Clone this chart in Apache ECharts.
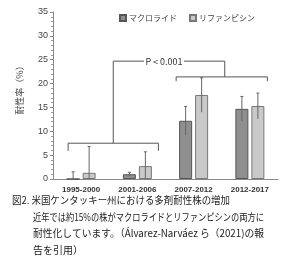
<!DOCTYPE html>
<html><head><meta charset="utf-8">
<script src="https://cdn.jsdelivr.net/npm/echarts@6/dist/echarts.min.js"></script>
<style>html,body{margin:0;padding:0;background:#fff}#c{width:300px;height:256px}</style>
</head><body><div id="c"></div>
<script>
const categories = ['1995-2000', '2001-2006', '2007-2012', '2012-2017'];
const macrolide = [0, 1.0, 12.2, 14.7];
const macrolideErr = [1.5, 0.4, 3.0, 2.6];
const rifampicin = [1.3, 2.7, 17.6, 15.3];
const rifampicinErr = [5.5, 3.0, 3.6, 2.7];
const yTicks = [0, 5, 10, 15, 20, 25, 30, 35];
const seriesNames = ['マクロライド', 'リファンピシン'];
const pText = 'P < 0.001';
const yName = '耐性率（%）';
const caption = [
  '図2. 米国ケンタッキー州における多剤耐性株の増加',
  '近年では約15%の株がマクロライドとリファンピシンの両方に',
  '耐性化しています。（Álvarez-Narváez ら（2021)の報',
  '告を引用）'
];

const FONT = '"Noto Sans CJK JP", "Noto Sans", sans-serif';
const chart = echarts.init(document.getElementById('c'), null, {renderer: 'canvas'});

const mctx = document.createElement('canvas').getContext('2d');
mctx.font = '10px ' + FONT;
function fitScale(text, target) {
  const w = mctx.measureText(text).width;
  return w > target ? target / w : 1;
}

function errSeries(vals, errs, offset) {
  return {
    type: 'custom',
    silent: true,
    z: 5,
    data: vals.map((v, i) => [i, v, errs[i]]),
    renderItem: function (params, api) {
      const i = api.value(0), v = api.value(1), e = api.value(2);
      const hi = api.coord([i, v + e]);
      const lo = api.coord([i, Math.max(0, v - e)]);
      const x = hi[0] + offset;
      return {
        type: 'group',
        children: [
          {type: 'line', shape: {x1: x, y1: hi[1], x2: x, y2: lo[1]}, style: {stroke: '#666', lineWidth: 1}},
          {type: 'line', shape: {x1: x - 1.5, y1: hi[1], x2: x + 1.5, y2: hi[1]}, style: {stroke: '#666', lineWidth: 1}}
        ]
      };
    }
  };
}

const bracket = {
  type: 'custom',
  silent: true,
  z: 6,
  data: [[0, 0]],
  renderItem: function (params, api) {
    const c0 = api.coord([0, 7.5]), c1 = api.coord([1, 7.5]);
    const c2 = api.coord([2, 21.4]), c3 = api.coord([3, 21.4]);
    const leftTickY = api.coord([0, 5.9])[1];
    const rightTickY = api.coord([2, 20.5])[1];
    const topY = api.coord([0, 24.7])[1];
    const lx1 = c0[0] - 13, lx2 = c1[0] + 21;
    const rx1 = c2[0] - 17.5, rx2 = c3[0] + 17.5;
    const lmid = (lx1 + lx2) / 2, rmid = (rx1 + rx2) / 2 + 3;
    const tx = (lmid + rmid) / 2 - 5;
    const st = {stroke: '#555', lineWidth: 1, fill: null};
    return {
      type: 'group',
      children: [
        {type: 'polyline', shape: {points: [[lx1, leftTickY], [lx1, c0[1]], [lx2, c0[1]], [lx2, leftTickY]]}, style: st},
        {type: 'polyline', shape: {points: [[rx1, rightTickY], [rx1, c2[1]], [rx2, c2[1]], [rx2, rightTickY]]}, style: st},
        {type: 'polyline', shape: {points: [[lmid, c0[1]], [lmid, topY], [tx - 20, topY]]}, style: st},
        {type: 'polyline', shape: {points: [[tx + 20, topY], [rmid, topY], [rmid, c2[1]]]}, style: st},
        {type: 'text', style: {text: pText, x: tx, y: topY, align: 'center', verticalAlign: 'middle', fontSize: 9, fontFamily: FONT, fill: '#333'}}
      ]
    };
  }
};

const capStyle = (t) => ({text: t, fontSize: 10, fontFamily: FONT, fill: '#222', verticalAlign: 'middle'});

chart.setOption({
  animation: false,
  grid: {left: 53, right: 22, top: 12, bottom: 77},
  legend: {
    data: seriesNames,
    left: 114, top: 9,
    itemWidth: 6, itemHeight: 6, itemGap: 12,
    textStyle: {fontSize: 8, fontFamily: FONT, color: '#444', padding: [0, 0, 0, -2]},
    icon: 'rect'
  },
  xAxis: {
    type: 'category',
    data: categories,
    axisLine: {lineStyle: {color: '#888'}},
    axisTick: {show: false},
    axisLabel: {fontSize: 8, fontWeight: 'bold', fontFamily: '"Liberation Sans", Arial, sans-serif', color: '#333', margin: 7}
  },
  yAxis: {
    type: 'value', min: yTicks[0], max: yTicks[yTicks.length - 1], interval: 5,
    axisLine: {show: true, lineStyle: {color: '#888'}},
    axisTick: {show: true, length: 3, lineStyle: {color: '#888'}},
    minorTick: {show: true, splitNumber: 5, length: 2, lineStyle: {color: '#999'}},
    splitLine: {show: false},
    axisLabel: {fontSize: 9, fontFamily: '"Liberation Sans", Arial, sans-serif', color: '#444', margin: 5}
  },
  series: [
    {name: seriesNames[0], type: 'bar', data: macrolide, barWidth: 13, barGap: '23%',
     itemStyle: {color: '#8f8f8f', borderColor: '#555', borderWidth: 1}},
    {name: seriesNames[1], type: 'bar', data: rifampicin, barWidth: 13, barGap: '23%',
     itemStyle: {color: '#c9c9c9', borderColor: '#777', borderWidth: 1}},
    errSeries(macrolide, macrolideErr, -8),
    errSeries(rifampicin, rifampicinErr, 8),
    bracket
  ],
  graphic: [
    {type: 'text', x: 20, y: 88, rotation: Math.PI / 2,
     style: {text: yName, fontSize: 9, fontFamily: FONT, fill: '#444', align: 'center', verticalAlign: 'middle'}},
    {type: 'text', x: 12, y: 200, scaleX: fitScale(caption[0], 218), style: capStyle(caption[0])},
    {type: 'text', x: 33, y: 217, scaleX: fitScale(caption[1], 231), style: capStyle(caption[1])},
    {type: 'text', x: 33, y: 233, scaleX: fitScale(caption[2], 231), style: capStyle(caption[2])},
    {type: 'text', x: 33, y: 250, style: capStyle(caption[3])}
  ]
});
</script></body></html>
